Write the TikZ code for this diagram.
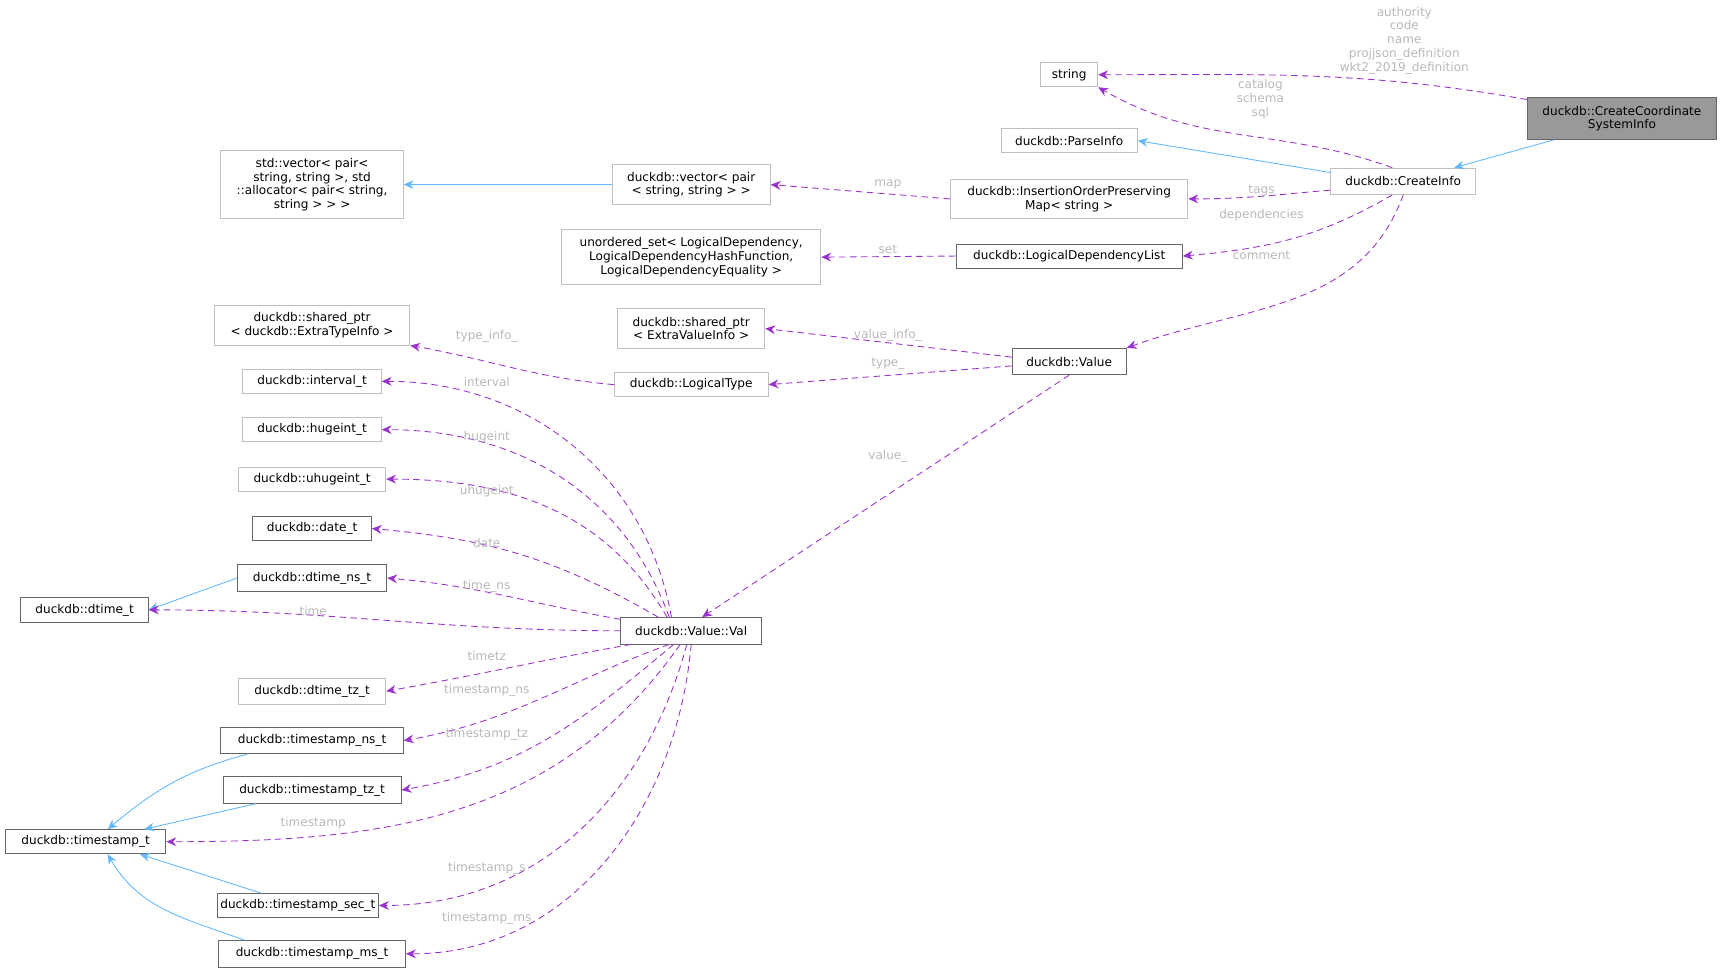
\documentclass[tikz,border=0pt]{standalone}
\usepackage{fontspec}
\setmainfont{DejaVu Sans}
\usetikzlibrary{arrows.meta}
\definecolor{pur}{HTML}{9A32CD}
\definecolor{blu}{HTML}{63B8FF}
\definecolor{lab}{HTML}{B8B8B8}
\definecolor{dk}{HTML}{666666}
\definecolor{lt}{HTML}{BFBFBF}
\begin{document}
\begin{tikzpicture}[x=0.5pt,y=-0.5pt,font=\fontsize{5.5pt}{6.3pt}\selectfont,
 box/.style={draw=#1,line width=0.4pt,inner sep=1.5pt,align=center,fill=white},
 gb/.style={box=lt},
 db/.style={box=dk},
 mem/.style={pur,dash pattern=on 3pt off 2pt,line width=0.4pt,-{Stealth[length=4.5pt,width=4pt]}},
 inh/.style={blu,line width=0.4pt,-{Stealth[length=4.5pt,width=4pt]}},
 lb/.style={text=lab,align=center,inner sep=0.5pt}]
\useasboundingbox (0,0) rectangle (1568,885);
\node[box=dk,fill=gray!80,minimum width=86pt,minimum height=19pt] (ccsi) at (1476,108) {duckdb::CreateCoordinate\\SystemInfo};
\node[gb,minimum width=26pt,minimum height=11pt] (str) at (973,68) {string};
\node[gb,minimum width=66pt,minimum height=12pt] (ci) at (1277,165) {duckdb::CreateInfo};
\node[gb,minimum width=62pt,minimum height=11pt] (pi) at (973,128) {duckdb::ParseInfo};
\node[gb,minimum width=108pt,minimum height=18pt] (iop) at (973,181) {duckdb::InsertionOrderPreserving\\Map\textless{} string \textgreater};
\node[db,minimum width=103pt,minimum height=11pt] (ldl) at (973,233) {duckdb::LogicalDependencyList};
\node[gb,minimum width=118pt,minimum height=25pt] (us) at (629,234) {unordered\_set\textless{} LogicalDependency,\\LogicalDependencyHashFunction,\\LogicalDependencyEquality \textgreater};
\node[gb,minimum width=72pt,minimum height=18pt] (vec) at (629,168) {duckdb::vector\textless{} pair\\\textless{} string, string \textgreater{} \textgreater};
\node[gb,minimum width=83pt,minimum height=31pt] (sv) at (284,168) {std::vector\textless{} pair\textless\\ string, string \textgreater, std\\::allocator\textless{} pair\textless{} string,\\ string \textgreater{} \textgreater{} \textgreater};
\node[gb,minimum width=67pt,minimum height=18pt] (evi) at (629,299) {duckdb::shared\_ptr\\\textless{} ExtraValueInfo \textgreater};
\node[db,minimum width=52pt,minimum height=12pt] (val) at (973,329) {duckdb::Value};
\node[gb,minimum width=70pt,minimum height=11pt] (lt) at (629,350) {duckdb::LogicalType};
\node[gb,minimum width=89pt,minimum height=18pt] (eti) at (284,296) {duckdb::shared\_ptr\\\textless{} duckdb::ExtraTypeInfo \textgreater};
\node[gb,minimum width=63pt,minimum height=11pt] (itv) at (284,347) {duckdb::interval\_t};
\node[gb,minimum width=63pt,minimum height=11pt] (hi) at (284,391) {duckdb::hugeint\_t};
\node[gb,minimum width=67pt,minimum height=11pt] (uhi) at (284,436) {duckdb::uhugeint\_t};
\node[db,minimum width=54pt,minimum height=11pt] (dt) at (284,481) {duckdb::date\_t};
\node[db,minimum width=68pt,minimum height=12pt] (dns) at (284,526) {duckdb::dtime\_ns\_t};
\node[db,minimum width=58pt,minimum height=11pt] (dtt) at (77,555) {duckdb::dtime\_t};
\node[db,minimum width=64pt,minimum height=12pt] (vv) at (629,574) {duckdb::Value::Val};
\node[gb,minimum width=67pt,minimum height=12pt] (dtz) at (284,629) {duckdb::dtime\_tz\_t};
\node[db,minimum width=83pt,minimum height=12pt] (tns) at (284,674) {duckdb::timestamp\_ns\_t};
\node[db,minimum width=81pt,minimum height=12pt] (ttz) at (284,719) {duckdb::timestamp\_tz\_t};
\node[db,minimum width=73pt,minimum height=11pt] (ts) at (78,766) {duckdb::timestamp\_t};
\node[db,minimum width=72pt,minimum height=11pt] (tsec) at (271,824) {duckdb::timestamp\_sec\_t};
\node[db,minimum width=85pt,minimum height=12pt] (tms) at (284,868) {duckdb::timestamp\_ms\_t};
% inheritance
\draw[inh] ([xshift=12pt]ccsi.south west) -- ([xshift=-10pt]ci.north east);
\draw[inh] ([yshift=4pt]ci.west) -- (pi.east);
\draw[inh] (vec.west) -- (sv.east);
\draw[inh] (dns.west) -- (dtt.east);
\draw[inh] ([xshift=12pt]tns.south west) to[out=195,in=40] ([xshift=10pt]ts.north);
\draw[inh] ([xshift=15pt]ttz.south west) -- ([xshift=-10pt]ts.north east);
\draw[inh] ([xshift=20pt]tsec.north west) -- ([xshift=-12pt]ts.south east);
\draw[inh] ([xshift=12pt]tms.north west) to[out=160,in=-60] ([xshift=10pt]ts.south);
% members
\draw[mem] ([yshift=-1pt]ccsi.north west) to[out=170,in=0] (str.east);
\node[lb] at (1278,37) {authority\\code\\name\\projjson\_definition\\wkt2\_2019\_definition};
\draw[mem] ([xshift=-5pt]ci.north) to[out=160,in=-30] (str.south east);
\node[lb] at (1147,90) {catalog\\schema\\sql};
\draw[mem] ([yshift=-4pt]ci.west) to[out=185,in=0] (iop.east);
\node[lb] at (1148,173) {tags};
\draw[mem] ([xshift=-5pt]ci.south) to[out=-150,in=5] (ldl.east);
\node[lb] at (1148,196) {dependencies};
\draw[mem] (ci.south) to[out=-110,in=20] (val.north east);
\node[lb] at (1148,232) {comment};
\draw[mem] (iop.west) -- (vec.east);
\node[lb] at (808,168) {map};
\draw[mem] (ldl.west) -- (us.east);
\node[lb] at (808,227) {set};
\draw[mem] ([yshift=2pt]val.west) -- (evi.east);
\node[lb] at (808,305) {value\_info\_};
\draw[mem] ([yshift=-2pt]val.west) -- (lt.east);
\node[lb] at (808,331) {type\_};
\draw[mem] (val.south) -- ([xshift=5pt]vv.north);
\node[lb] at (808,415) {value\_};
\draw[mem] (lt.west) to[out=175,in=-10] (eti.south east);
\node[lb] at (443,306) {type\_info\_};
\draw[mem] ([xshift=-9pt]vv.north) to[out=100,in=0] (itv.east);
\node[lb] at (443,348) {interval};
\draw[mem] ([xshift=-10pt]vv.north) to[out=110,in=0] (hi.east);
\node[lb] at (443,398) {hugeint};
\draw[mem] ([xshift=-11pt]vv.north) to[out=120,in=0] (uhi.east);
\node[lb] at (443,447) {uhugeint};
\draw[mem] ([xshift=-15pt]vv.north) to[out=150,in=-5] (dt.east);
\node[lb] at (443,494) {date};
\draw[mem] ([yshift=-1pt]vv.north west) to[out=170,in=-5] (dns.east);
\node[lb] at (443,534) {time\_ns};
\draw[mem] (vv.west) to[out=180,in=0] (dtt.east);
\node[lb] at (285,556) {time};
\draw[mem] ([xshift=5pt]vv.south west) to[out=190,in=10] (dtz.east);
\node[lb] at (443,597) {timetz};
\draw[mem] ([xshift=-10pt]vv.south) to[out=200,in=10] (tns.east);
\node[lb] at (443,628) {timestamp\_ns};
\draw[mem] ([xshift=-8pt]vv.south) to[out=220,in=10] (ttz.east);
\node[lb] at (443,668) {timestamp\_tz};
\draw[mem] ([xshift=-5pt]vv.south) to[out=235,in=0] (ts.east);
\node[lb] at (285,749) {timestamp};
\draw[mem] ([xshift=-2pt]vv.south) to[out=255,in=0] (tsec.east);
\node[lb] at (443,790) {timestamp\_s};
\draw[mem] (vv.south) to[out=265,in=0] (tms.east);
\node[lb] at (443,836) {timestamp\_ms};
\end{tikzpicture}
\end{document}
